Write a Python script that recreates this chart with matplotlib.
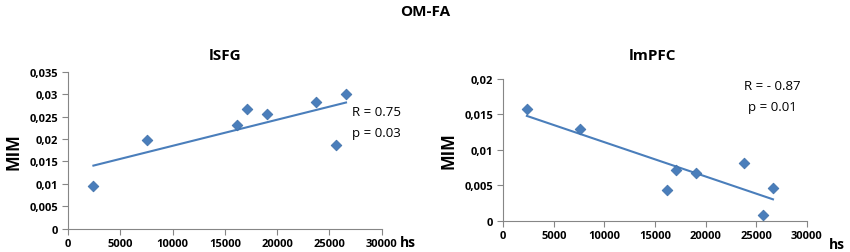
import matplotlib
matplotlib.use("Agg")
import matplotlib.pyplot as plt
import numpy as np
from matplotlib.ticker import FuncFormatter, MultipleLocator

plt.rcParams["font.family"] = ["Open Sans", "DejaVu Sans"]

# hs values per panel
hs_left = [2430, 7600, 16150, 17100, 19000, 23750, 25630, 26590]
mim_left = [0.0095, 0.0197, 0.0231, 0.0266, 0.0256, 0.0283, 0.0187, 0.0301]

hs_right = [2340, 7620, 16190, 17110, 19020, 23770, 25680, 26670]
mim_right = [0.01575, 0.01288, 0.00434, 0.00708, 0.00675, 0.00816, 0.0008, 0.00458]

BLUE = "#4a7ebb"
GRAY = "#868686"
W, H = 850, 253


def comma_fmt(v, pos):
    return "{:g}".format(round(v, 4)).replace(".", ",")


def ptext(fig, x, y, s, **kw):
    # place text by pixel position measured from the top-left corner
    return fig.text(x / W, 1 - y / H, s, **kw)


def style_axes(ax, ymax):
    for s in ("top", "right"):
        ax.spines[s].set_visible(False)
    for s in ("left", "bottom"):
        ax.spines[s].set_color(GRAY)
        ax.spines[s].set_linewidth(0.8)
    ax.set_xlim(0, 30000)
    ax.set_ylim(0, ymax)
    ax.xaxis.set_major_locator(MultipleLocator(5000))
    ax.yaxis.set_major_locator(MultipleLocator(0.005))
    ax.yaxis.set_major_formatter(FuncFormatter(comma_fmt))
    ax.tick_params(axis="both", direction="out", length=4, width=0.8,
                   color=GRAY, labelsize=8, pad=3)
    for lab in ax.get_xticklabels() + ax.get_yticklabels():
        lab.set_fontweight("bold")


def draw(ax, x, y):
    x = np.array(x)
    y = np.array(y)
    k, b = np.polyfit(x, y, 1)
    xs = np.array([x.min(), x.max()])
    ax.plot(xs, k * xs + b, color=BLUE, lw=1.5, zorder=2)
    ax.scatter(x, y, marker="D", s=30, color=BLUE, edgecolors="#3d6fa8",
               linewidths=0.5, zorder=3, clip_on=False)


fig = plt.figure(figsize=(8.5, 2.53), dpi=100)

ax1 = fig.add_axes([0.080, 0.092, 0.369, 0.621])
draw(ax1, hs_left, mim_left)
style_axes(ax1, 0.035)
ax1.set_ylabel("MIM", fontsize=12, fontweight="bold", labelpad=5)

ax2 = fig.add_axes([0.592, 0.124, 0.357, 0.560])
draw(ax2, hs_right, mim_right)
style_axes(ax2, 0.02)
ax2.set_ylabel("MIM", fontsize=12, fontweight="bold", labelpad=5)

bold = dict(ha="center", va="center", fontweight="bold")
ptext(fig, 425, 12, "OM-FA", fontsize=11, **bold)
ptext(fig, 225, 56, "lSFG", fontsize=11, **bold)
ptext(fig, 653, 56, "lmPFC", fontsize=11, **bold)
ptext(fig, 408, 243, "hs", fontsize=10, **bold)
ptext(fig, 837, 245, "hs", fontsize=10, **bold)

ptext(fig, 352, 113, "R = 0.75", fontsize=9.5, va="center")
ptext(fig, 352, 134, "p = 0.03", fontsize=9.5, va="center")
ptext(fig, 772, 87, "R = - 0.87", fontsize=9.5, ha="center", va="center")
ptext(fig, 772, 107, "p = 0.01", fontsize=9.5, ha="center", va="center")

fig.savefig("out.png", dpi=100)
